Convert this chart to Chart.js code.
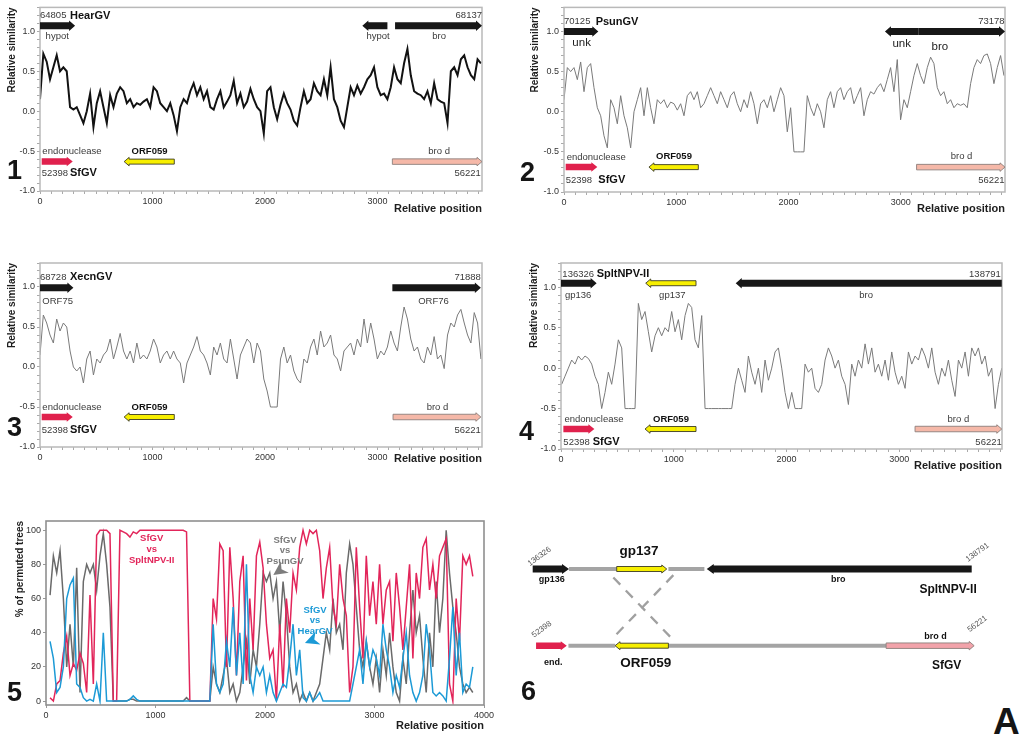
<!DOCTYPE html>
<html><head><meta charset="utf-8">
<script src="https://cdn.jsdelivr.net/npm/chart.js@4.4.1/dist/chart.umd.min.js"></script>
<style>
html,body{margin:0;padding:0;background:#fff;}
body{width:1024px;height:743px;position:relative;overflow:hidden;font-family:'Liberation Sans',Arial,sans-serif;}
canvas{position:absolute;}
.num{position:absolute;font-weight:bold;font-size:27px;line-height:27px;color:#151515;}
</style></head><body>
<canvas id="c1" width="490" height="216" style="left:0;top:0"></canvas>
<canvas id="c2" width="490" height="216" style="left:524px;top:0"></canvas>
<canvas id="c3" width="490" height="216" style="left:0;top:255px"></canvas>
<canvas id="c4" width="490" height="220" style="left:521px;top:255px"></canvas>
<canvas id="c5" width="500" height="224" style="left:0;top:512px"></canvas>
<canvas id="c6" width="524" height="200" style="left:500px;top:500px"></canvas>
<div class="num" style="left:7px;top:157px">1</div>
<div class="num" style="left:520px;top:159px">2</div>
<div class="num" style="left:7px;top:414px">3</div>
<div class="num" style="left:519px;top:418px">4</div>
<div class="num" style="left:7px;top:679px">5</div>
<div class="num" style="left:521px;top:678px">6</div>
<div class="num" style="left:993px;top:703px;font-size:37px;line-height:37px">A</div>
<script>
// ---------------- DATA ----------------
const posTicks = [0, 1000, 2000, 3000];
const posTicks5 = [0, 1000, 2000, 3000, 4000];
const simTicks = [-1.0, -0.5, 0.0, 0.5, 1.0];
const pctTicks = [0, 20, 40, 60, 80, 100];

// sampling grid of the similarity windows (relative position of first window, spacing)
const sim1Start = 0, sim1Step = 29.7;
const sim1 = [0.15,0.72,0.62,0.40,0.55,0.70,0.50,0.55,0.50,0.05,
 0.02,0.05,-0.05,-0.15,0.00,0.22,-0.20,0.10,0.25,0.05,
 -0.15,0.20,0.05,0.22,0.30,0.25,0.10,0.15,0.05,0.10,
 0.08,0.12,0.15,0.05,0.30,0.25,0.10,0.05,0.00,0.10,
 -0.05,-0.25,0.05,0.15,0.10,0.25,0.35,0.20,0.30,0.15,
 0.25,0.05,0.02,0.15,0.25,0.05,0.12,0.20,0.38,0.10,
 0.22,0.05,0.12,0.28,0.15,0.05,0.00,-0.28,0.25,0.30,
 0.05,-0.10,0.08,0.22,0.10,0.02,-0.12,-0.18,0.05,0.25,
 0.10,0.15,0.35,0.25,0.20,0.40,0.20,0.55,0.15,0.05,
 -0.12,-0.20,0.05,0.30,0.20,0.32,0.22,0.30,0.40,0.45,
 0.55,0.30,0.20,0.22,0.15,0.30,0.55,0.40,0.35,0.60,
 0.78,0.45,0.25,0.22,0.20,0.15,0.25,0.10,0.35,0.15,
 0.12,0.10,-0.15,0.50,0.55,0.45,0.65,0.70,0.55,0.45,
 0.40,0.65,0.60];

const sim2Start = 0, sim2Step = 29.7;
const sim2 = [0.15,0.55,0.50,0.55,0.40,0.62,0.25,0.55,0.60,0.30,
 0.05,-0.05,-0.30,-0.45,0.15,0.05,-0.15,0.20,-0.05,-0.20,
 -0.45,0.00,0.15,0.30,-0.05,0.30,0.05,-0.15,0.15,0.10,
 0.15,0.05,0.12,0.10,0.02,0.10,-0.05,0.20,0.25,0.15,
 0.25,0.05,0.10,0.20,0.30,0.20,0.10,0.25,0.15,0.05,
 0.20,0.25,0.10,0.00,0.15,0.05,0.25,0.10,-0.15,0.10,
 0.15,0.05,0.20,0.00,0.15,0.30,0.20,-0.25,0.05,-0.50,
 -0.50,-0.50,-0.50,0.20,0.05,-0.05,0.10,0.00,-0.20,0.15,
 0.25,0.05,0.25,0.30,0.15,0.25,0.30,0.10,0.20,0.30,
 -0.05,0.15,0.25,0.22,0.30,0.35,0.25,0.40,0.55,0.25,
 0.65,-0.10,0.15,0.05,0.25,0.45,0.60,0.45,0.35,0.55,
 0.68,0.60,0.30,0.20,0.25,0.10,0.15,0.05,0.10,0.08,
 0.10,0.05,0.35,0.55,0.65,0.60,0.70,0.72,0.60,0.35,
 0.55,0.70,0.45];

const sim3Start = 0, sim3Step = 29.7;
const sim3 = [0.15,0.65,0.55,0.40,0.30,0.60,0.45,0.55,0.50,0.20,
 0.00,-0.05,0.00,-0.20,0.10,0.20,-0.10,0.10,0.05,0.15,
 0.20,0.35,0.10,0.25,0.42,0.20,0.10,0.20,0.05,0.30,
 0.10,0.15,0.10,0.20,0.35,0.25,0.05,0.15,0.20,0.10,
 0.20,0.10,0.05,-0.20,0.05,0.15,0.25,0.38,0.20,0.15,
 0.05,-0.10,0.25,0.15,0.30,0.10,0.05,0.35,0.10,-0.15,
 0.15,0.25,0.35,0.30,0.05,0.30,0.20,-0.15,-0.30,-0.50,
 -0.50,-0.50,0.10,0.25,0.05,0.15,-0.05,-0.15,-0.20,0.10,
 0.05,0.25,0.35,0.15,0.45,0.25,0.30,0.40,0.15,0.10,
 -0.05,0.20,0.25,0.30,0.15,0.35,0.25,0.60,0.30,0.55,
 0.35,0.10,0.20,0.15,0.25,0.45,0.30,0.20,0.50,0.75,
 0.60,0.35,0.20,0.25,0.10,0.05,0.25,0.15,0.38,0.10,
 0.15,-0.02,0.40,0.55,0.50,0.65,0.72,0.55,0.40,0.30,
 0.68,0.55,0.10];

const sim4Start = 6, sim4Step = 29.56;
const sim4 = [-0.20,-0.10,0.00,0.10,0.05,0.15,0.10,0.15,0.12,0.05,
 -0.10,-0.20,-0.50,-0.30,-0.05,-0.20,0.05,0.35,0.25,-0.50,
 -0.50,-0.50,-0.50,0.80,0.60,0.70,0.45,0.20,0.40,0.50,
 0.40,0.50,0.45,0.70,0.45,0.60,0.35,0.65,0.80,0.75,
 0.35,0.25,0.65,-0.50,-0.50,-0.50,-0.50,-0.50,-0.50,-0.50,
 -0.50,-0.50,-0.20,0.00,-0.15,-0.30,0.15,-0.05,-0.20,0.00,
 -0.30,0.10,-0.15,0.00,0.20,0.25,0.00,-0.30,-0.50,-0.30,
 -0.50,-0.50,-0.50,0.05,-0.05,0.00,-0.25,-0.30,-0.20,0.10,
 0.25,0.15,0.00,0.10,-0.10,-0.20,-0.45,0.05,-0.10,0.10,
 0.00,0.30,0.05,0.25,-0.05,0.05,-0.10,0.10,-0.15,0.20,
 -0.05,-0.20,-0.10,-0.25,0.20,0.05,0.15,0.10,0.25,0.15,
 0.00,0.25,-0.05,-0.20,0.00,-0.10,0.10,-0.15,-0.35,0.10,
 0.00,0.20,-0.10,0.25,0.15,0.25,0.05,0.15,-0.10,0.00,
 -0.50,-0.20,0.00];

// panel 5: % of permuted trees
const perm5Start = 37, perm5Step = 30.4;
const permSplt = [2,0,10,12,28,38,15,22,18,28,
 22,5,62,10,97,100,100,100,98,0,
 0,100,99,98,96,99,98,100,100,100,
 100,100,100,100,100,100,100,100,100,100,
 100,99,0,0,0,0,0,0,0,60,
 48,92,88,20,90,60,15,70,85,12,
 60,30,85,93,78,45,25,30,0,45,
 8,60,40,75,65,90,100,92,100,98,
 100,88,60,78,90,55,45,80,60,50,
 5,20,90,55,25,85,50,70,45,80,
 45,65,70,35,75,55,30,55,80,25,
 75,60,90,95,65,80,60,85,90,95,
 10,0,60,35,85,80,85,73];
const permPsun = [62,85,75,88,60,20,45,20,78,5,
 70,80,75,80,65,85,98,80,55,0,
 0,0,0,0,1,1,0,0,0,0,
 0,0,0,0,0,0,0,0,0,0,
 0,2,0,0,0,0,0,0,0,20,
 10,5,15,25,5,10,0,5,20,35,
 10,30,20,45,75,70,75,60,70,40,
 70,50,20,5,10,0,5,0,5,0,
 5,10,25,40,30,60,40,45,30,75,
 92,80,55,30,20,35,20,10,25,5,
 30,15,40,20,5,0,25,10,40,65,
 40,50,25,5,40,20,70,40,60,100,
 75,55,40,20,10,5,8,5];
const permHear = [35,25,5,8,20,60,68,72,10,8,
 2,0,1,0,10,0,40,0,0,0,
 0,0,0,0,1,3,1,0,0,0,
 0,0,0,0,0,0,0,0,0,0,
 0,0,0,0,0,0,0,0,0,45,
 10,5,10,35,20,55,15,40,10,80,
 15,5,20,15,20,5,15,5,0,5,
 10,8,25,45,15,30,2,0,5,0,
 2,5,0,0,0,0,0,0,0,0,
 0,10,20,30,10,35,20,30,25,15,
 45,30,20,5,15,8,25,40,15,5,
 0,5,15,45,30,5,3,5,3,0,
 25,55,15,40,5,10,8,20];

// gene annotations (relative positions; head of arrow at "to")
const genes1 = [
  {from:0,to:312,y:1.07,k:'black'},{from:3089,to:2866,y:1.07,k:'black'},{from:3157,to:3930,y:1.07,k:'black'},
  {from:15,to:291,y:-0.632,k:'red'},{from:1194,to:748,y:-0.632,k:'yellow'},{from:3133,to:3930,y:-0.632,k:'pink'}];
const genes2 = [
  {from:0,to:306,y:1.0,k:'black'},{from:3157,to:2860,y:1.0,k:'black'},{from:3157,to:3930,y:1.0,k:'black'},
  {from:15,to:297,y:-0.69,k:'red'},{from:1197,to:757,y:-0.69,k:'yellow'},{from:3142,to:3930,y:-0.69,k:'pink'}];
const genes3 = [
  {from:0,to:297,y:0.99,k:'black'},{from:3133,to:3920,y:0.99,k:'black'},
  {from:15,to:291,y:-0.625,k:'red'},{from:1194,to:748,y:-0.625,k:'yellow'},{from:3139,to:3920,y:-0.625,k:'pink'}];
const genes4 = [
  {from:0,to:316,y:1.05,k:'black'},{from:1197,to:751,y:1.05,k:'yellow'},{from:3908,to:1549,y:1.05,k:'black'},
  {from:21,to:296,y:-0.753,k:'red'},{from:1197,to:745,y:-0.753,k:'yellow'},{from:3139,to:3908,y:-0.753,k:'pink'}];
const genes6 = [
  {from:0,to:325,y:1,k:'black6'},{from:752,to:1200,y:1,k:'yellow6'},{from:3930,to:1558,y:1,k:'black6'},
  {from:30,to:305,y:0,k:'red6'},{from:1215,to:737,y:0,k:'yellow6'},{from:3164,to:3952,y:0,k:'pink6'}];
const links6 = [{from:325,to:752,y:1},{from:1215,to:1537,y:1},{from:320,to:737,y:0},{from:1215,to:3164,y:0}];
const cross6 = [{x0:722,y0:0.89,x1:1244,y1:0.096},{x0:1259,y0:0.92,x1:707,y1:0.083}];

// ---------------- STYLE ----------------
const FONT = "'Liberation Sans', Arial, Helvetica, sans-serif";
Chart.defaults.font.family = FONT;
Chart.defaults.color = '#333';

const GENE_STYLE = {
  black:{fill:'#171717',stroke:null,sh:7,hh:10.5,hl:6},
  red:{fill:'#e0214d',stroke:null,sh:6.5,hh:9.5,hl:6},
  yellow:{fill:'#f7ef00',stroke:'#3b3b22',sh:5,hh:8.5,hl:5},
  pink:{fill:'#f5b8a8',stroke:'#8c7f7c',sh:5.5,hh:8.5,hl:5},
  black6:{fill:'#171717',stroke:null,sh:7,hh:10,hl:7},
  yellow6:{fill:'#f7ef00',stroke:'#3b3b22',sh:5,hh:8,hl:5},
  red6:{fill:'#e0214d',stroke:null,sh:6.5,hh:9,hl:6},
  pink6:{fill:'#f2a3aa',stroke:'#8c7f7c',sh:5.5,hh:8.5,hl:5}
};

const T = (t,x,y,f,a,c,rot) => ({t,x,y,f:f||'9.5px',a:a||'left',c:c||'#3a3a3a',rot:rot||0});
const B = 'bold 11px', BS = 'bold 9.5px';

const texts1 = [T('64805',0,1.194),T('HearGV',267,1.194,B,'left','#111'),T('hypot',50,0.94),
  T('hypot',3006,0.94,null,'center'),T('68137',3930,1.194,null,'right'),T('bro',3549,0.94,null,'center'),
  T('endonuclease',21,-0.508),T('52398',15,-0.777),T('SfGV',267,-0.777,B,'left','#111'),
  T('ORF059',974,-0.50,BS,'center','#111'),T('bro d',3549,-0.50,null,'center'),T('56221',3920,-0.777,null,'right')];
const texts2 = [T('70125',0,1.124),T('PsunGV',282,1.124,B,'left','#111'),T('unk',157,0.856,'11.5px','center','#222'),
  T('73178',3926,1.124,null,'right'),T('unk',3009,0.843,'11.5px','center','#222'),T('bro',3350,0.814,'11.5px','center','#222'),
  T('endonuclease',24,-0.567),T('52398',15,-0.856),T('SfGV',306,-0.856,B,'left','#111'),
  T('ORF059',980,-0.56,BS,'center','#111'),T('bro d',3543,-0.56,null,'center'),T('56221',3926,-0.856,null,'right')];
const texts3 = [T('68728',0,1.125),T('XecnGV',267,1.125,B,'left','#111'),T('ORF75',21,0.825),
  T('71888',3920,1.125,null,'right'),T('ORF76',3499,0.825,null,'center'),
  T('endonuclease',21,-0.5),T('52398',15,-0.79),T('SfGV',267,-0.79,B,'left','#111'),
  T('ORF059',974,-0.5,BS,'center','#111'),T('bro d',3534,-0.5,null,'center'),T('56221',3920,-0.79,null,'right')];
const texts4 = [T('136326',12,1.165),T('SpltNPV-II',316,1.165,B,'left','#111'),T('gp136',35,0.905),
  T('gp137',987,0.905,null,'center'),T('138791',3899,1.165,null,'right'),T('bro',2705,0.905,null,'center'),
  T('endonuclease',30,-0.63),T('52398',21,-0.913),T('SfGV',281,-0.913,B,'left','#111'),
  T('ORF059',975,-0.63,BS,'center','#111'),T('bro d',3523,-0.63,null,'center'),T('56221',3908,-0.913,null,'right')];
const RED='#e2255a', GRY='#7a7a7a', BLU='#1c9ad6';
const texts5 = [T('SfGV',965,95,BS,'center',RED),T('vs',965,88.7,BS,'center',RED),T('SpltNPV-II',965,82.5,BS,'center',RED),
  T('SfGV',2183,94,BS,'center',GRY),T('vs',2183,88,BS,'center',GRY),T('PsunGV',2183,82,BS,'center',GRY),
  T('SfGV',2457,53,BS,'center',BLU),T('vs',2457,47,BS,'center',BLU),T('HearGV',2457,41,BS,'center',BLU)];
const pointers5 = [{x:2076,y:73.8,ang:145,c:'#7d7d7d'},{x:2365,y:34,ang:159,c:BLU}];
const texts6 = [T('136326',60,1.163,'8px','center','#555',-36),T('gp137',952,1.226,'bold 13.5px','center','#111'),
  T('gp136',170,0.857,'bold 9px','center','#111'),T('bro',2736,0.857,'bold 9px','center','#111'),
  T('SpltNPV-II',3975,0.726,'bold 12px','right','#111'),T('138791',3981,1.217,'8px','center','#555',-36),
  T('52398',81,0.213,'8px','center','#555',-36),T('end.',185,-0.217,'bold 9px','center','#111'),
  T('ORF059',1012,-0.23,'bold 13.5px','center','#111'),T('bro d',3605,0.126,'bold 9px','center','#111'),
  T('56221',3981,0.283,'8px','center','#555',-36),T('SfGV',3706,-0.26,'bold 12px','center','#111')];

// ---------------- DRAWING ----------------
function pts(start, step, vals){ return vals.map((v,i)=>({x:start+i*step, y:v})); }

function drawGene(ctx, xs, ys, g){
  const st = GENE_STYLE[g.k];
  const x0 = xs.getPixelForValue(g.from), x1 = xs.getPixelForValue(g.to), y = ys.getPixelForValue(g.y);
  const d = x1 >= x0 ? 1 : -1;
  const xb = x1 - d*st.hl, sh = st.sh/2, hh = st.hh/2;
  ctx.beginPath();
  ctx.moveTo(x0, y-sh); ctx.lineTo(xb, y-sh); ctx.lineTo(xb, y-hh); ctx.lineTo(x1, y);
  ctx.lineTo(xb, y+hh); ctx.lineTo(xb, y+sh); ctx.lineTo(x0, y+sh); ctx.closePath();
  ctx.fillStyle = st.fill; ctx.fill();
  if (st.stroke){ ctx.strokeStyle = st.stroke; ctx.lineWidth = 0.9; ctx.stroke(); }
}

const annotPlugin = {
  id:'annot',
  afterDatasetsDraw(chart, args, o){
    const {ctx, chartArea:ca} = chart;
    const xs = chart.scales.x, ys = chart.scales.y;
    ctx.save();
    if (o.box){ ctx.strokeStyle=o.box.color; ctx.lineWidth=o.box.width;
      ctx.strokeRect(ca.left, ca.top, ca.right-ca.left, ca.bottom-ca.top); }
    (o.links||[]).forEach(l=>{
      ctx.strokeStyle='#a4a4a4'; ctx.lineWidth=4; ctx.lineCap='butt';
      const y=ys.getPixelForValue(l.y);
      ctx.beginPath(); ctx.moveTo(xs.getPixelForValue(l.from),y); ctx.lineTo(xs.getPixelForValue(l.to),y); ctx.stroke();
    });
    (o.cross||[]).forEach(l=>{
      ctx.strokeStyle='#a0a0a0'; ctx.lineWidth=2.3; ctx.setLineDash([10,8]);
      ctx.beginPath(); ctx.moveTo(xs.getPixelForValue(l.x0),ys.getPixelForValue(l.y0));
      ctx.lineTo(xs.getPixelForValue(l.x1),ys.getPixelForValue(l.y1)); ctx.stroke(); ctx.setLineDash([]);
    });
    (o.genes||[]).forEach(g=>drawGene(ctx,xs,ys,g));
    (o.pointers||[]).forEach(p=>{
      const px=xs.getPixelForValue(p.x), py=ys.getPixelForValue(p.y), a=p.ang*Math.PI/180;
      ctx.save(); ctx.translate(px,py); ctx.rotate(a);
      ctx.beginPath(); ctx.moveTo(0,0); ctx.lineTo(-14,-7); ctx.lineTo(-10,0); ctx.lineTo(-14,7); ctx.closePath();
      ctx.fillStyle=p.c; ctx.fill(); ctx.restore();
    });
    (o.texts||[]).forEach(t=>{
      ctx.save();
      ctx.translate(xs.getPixelForValue(t.x), ys.getPixelForValue(t.y));
      if (t.rot) ctx.rotate(t.rot*Math.PI/180);
      ctx.font = t.f + ' ' + FONT; ctx.fillStyle=t.c; ctx.textAlign=t.a; ctx.textBaseline='middle';
      ctx.fillText(t.t,0,0); ctx.restore();
    });
    ctx.restore();
  }
};

function tickList(min, max, step){ const r=[]; for(let v=min; v<=max+1e-9; v+=step) r.push(Math.round(v*1000)/1000); return r; }
const isIn = (arr,v) => arr.some(t=>Math.abs(t-v)<1e-6);

function simChart(id, cfg){
  const minorX = tickList(0, cfg.xmax, 100), minorY = tickList(-1, 1.3, 0.1);
  return new Chart(document.getElementById(id), {
    type:'line',
    data:{datasets:[{data:pts(cfg.start,cfg.step,cfg.values), borderColor:cfg.color, borderWidth:cfg.lw,
      pointRadius:0, tension:0, fill:false, borderJoinStyle:'miter'}]},
    options:{
      responsive:false, animation:false, events:[],
      layout:{padding:{top:cfg.padTop,right:cfg.padRight,left:0,bottom:0}},
      plugins:{legend:{display:false},tooltip:{enabled:false},
        annot:{box:{color:'#b9b9b9',width:1.5},genes:cfg.genes,texts:cfg.texts}},
      scales:{
        x:{type:'linear',min:0,max:cfg.xmax,
          afterBuildTicks:s=>{s.ticks=minorX.map(v=>({value:v}));},
          ticks:{autoSkip:false,maxRotation:0,minRotation:0,padding:2,font:{size:9},color:'#333',
            callback:v=>isIn(posTicks,v)?String(v):''},
          grid:{drawOnChartArea:false,drawTicks:true,tickLength:3,color:'#aaa'},
          border:{display:false},
          title:{display:true,text:'Relative position',align:'end',font:{size:11,weight:'bold'},color:'#1e1e1e',
            padding:{top:0,bottom:cfg.xtPad}},
          afterFit:s=>{s.height=cfg.xh;}},
        y:{type:'linear',min:-1,max:1.3,
          afterBuildTicks:s=>{s.ticks=minorY.map(v=>({value:v}));},
          ticks:{autoSkip:false,padding:2,font:{size:9},color:'#333',
            callback:v=>isIn(simTicks,v)?v.toFixed(1):''},
          grid:{drawOnChartArea:false,drawTicks:true,tickLength:3,color:'#aaa'},
          border:{display:false},
          title:{display:true,text:'Relative similarity',align:'end',font:{size:10,weight:'bold'},color:'#1e1e1e',
            padding:{top:cfg.ytPad,bottom:0}},
          afterFit:s=>{s.width=40;}}
      }
    },
    plugins:[annotPlugin]
  });
}

simChart('c1',{start:sim1Start,step:sim1Step,values:sim1,color:'#121212',lw:2,xmax:3930,padTop:5,padRight:8,xh:25,xtPad:0,ytPad:6.5,genes:genes1,texts:texts1});
simChart('c2',{start:sim2Start,step:sim2Step,values:sim2,color:'#7a7a7a',lw:1,xmax:3930,padTop:5,padRight:9,xh:24,xtPad:0,ytPad:5.5,genes:genes2,texts:texts2});
simChart('c3',{start:sim3Start,step:sim3Step,values:sim3,color:'#7a7a7a',lw:1,xmax:3930,padTop:8,padRight:8,xh:24,xtPad:5,ytPad:6.5,genes:genes3,texts:texts3});
simChart('c4',{start:sim4Start,step:sim4Step,values:sim4,color:'#7a7a7a',lw:1,xmax:3910,padTop:8,padRight:9,xh:26,xtPad:2,ytPad:7.5,genes:genes4,texts:texts4});

// panel 5
new Chart(document.getElementById('c5'), {
  type:'line',
  data:{datasets:[
    {data:pts(perm5Start,perm5Step,permHear),borderColor:BLU,borderWidth:1.5,pointRadius:0,tension:0},
    {data:pts(perm5Start,perm5Step,permSplt),borderColor:RED,borderWidth:1.5,pointRadius:0,tension:0},
    {data:pts(perm5Start,perm5Step,permPsun),borderColor:'#6a6a6a',borderWidth:1.5,pointRadius:0,tension:0}
  ]},
  options:{
    responsive:false, animation:false, events:[],
    layout:{padding:{top:9,right:16,left:0,bottom:0}},
    plugins:{legend:{display:false},tooltip:{enabled:false},
      annot:{box:{color:'#8f8f8f',width:1.6},texts:texts5,pointers:pointers5}},
    scales:{
      x:{type:'linear',min:0,max:4000,
        afterBuildTicks:s=>{s.ticks=posTicks5.map(v=>({value:v}));},
        ticks:{autoSkip:false,maxRotation:0,minRotation:0,padding:2,font:{size:9},color:'#333',callback:v=>String(v)},
        grid:{drawOnChartArea:false,drawTicks:true,tickLength:3,color:'#999'},
        border:{display:false},
        title:{display:true,text:'Relative position',align:'end',font:{size:11,weight:'bold'},color:'#1e1e1e',padding:{top:0,bottom:3}},
        afterFit:s=>{s.height=31;}},
      y:{type:'linear',min:-2.3,max:105.4,
        afterBuildTicks:s=>{s.ticks=pctTicks.map(v=>({value:v}));},
        ticks:{autoSkip:false,padding:2,font:{size:9},color:'#333',callback:v=>String(v)},
        grid:{drawOnChartArea:false,drawTicks:true,tickLength:3,color:'#999'},
        border:{display:false},
        title:{display:true,text:'% of permuted trees',align:'end',font:{size:10,weight:'bold'},color:'#1e1e1e',padding:{top:14,bottom:0}},
        afterFit:s=>{s.width=46;}}
    }
  },
  plugins:[annotPlugin]
});

// panel 6 schematic
new Chart(document.getElementById('c6'), {
  type:'line',
  data:{datasets:[{data:[],pointRadius:0}]},
  options:{
    responsive:false, animation:false, events:[],
    layout:{padding:{top:69,right:52.3,left:32.7,bottom:54.3}},
    plugins:{legend:{display:false},tooltip:{enabled:false},
      annot:{links:links6,cross:cross6,genes:genes6,texts:texts6}},
    scales:{x:{type:'linear',min:0,max:3930,display:false},y:{type:'linear',min:0,max:1,display:false}}
  },
  plugins:[annotPlugin]
});
</script>
</body></html>
